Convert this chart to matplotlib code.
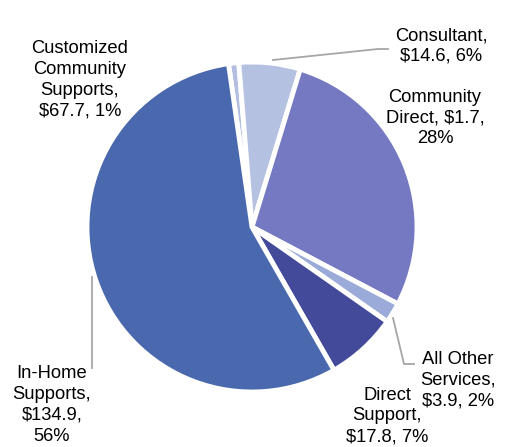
import numpy as np
import matplotlib.pyplot as plt

plt.rcParams['font.family'] = ['Liberation Sans', 'DejaVu Sans']

# slices in clockwise order, starting just left of 12 o'clock
names = ['Customized\nCommunity\nSupports,', 'Consultant,', 'Community\nDirect,', 'All Other\nServices,',
         'Direct\nSupport,', 'In-Home\nSupports,']
dollars = ['$67.7', '$14.6', '$1.7', '$3.9', '$17.8', '$134.9']
pct = [1, 6, 28, 2, 7, 56]
colors = ['#B3BEE0', '#B5C1E1', '#7479C1', '#9AABD9', '#434A9A', '#4A68AE']

fig = plt.figure(figsize=(5.06, 4.47), dpi=100)
ax = fig.add_axes([0, 0, 1, 1])
W, H = 506, 447
cx, cy, r = 252, H - 227, 165

ax.pie(pct, colors=colors, startangle=98.2, counterclock=False, center=(cx, cy), radius=r,
       wedgeprops=dict(edgecolor='white', linewidth=3.5))
ax.set_xlim(0, W)
ax.set_ylim(0, H)
ax.set_aspect('equal')
ax.axis('off')

labels = [
    'Customized\nCommunity\nSupports,\n%s, %d%%' % (dollars[0], pct[0]),
    'Consultant,\n%s, %d%%' % (dollars[1], pct[1]),
    'Community\nDirect, %s,\n%d%%' % (dollars[2], pct[2]),
    'All Other\nServices,\n%s, %d%%' % (dollars[3], pct[3]),
    'Direct\nSupport,\n%s, %d%%' % (dollars[4], pct[4]),
    'In-Home\nSupports,\n%s,\n%d%%' % (dollars[5], pct[5]),
]
pos = [(80, 80), (441, 46), (435, 118), (458, 380), (387, 416), (52, 405)]
for t, (x, y) in zip(labels, pos):
    ax.text(x, H - y, t, ha='center', va='center', fontsize=13.2, linespacing=1.3, color='black')

lc = '#A6A6A6'
ax.plot([273, 378, 388], [H - 60, H - 49, H - 49], color=lc, lw=1.3)
ax.plot([92, 92], [H - 277, H - 368], color=lc, lw=1.3)
ax.plot([393, 404, 414], [H - 318, H - 364, H - 364], color=lc, lw=1.3)

fig.savefig('out.png', dpi=100)
